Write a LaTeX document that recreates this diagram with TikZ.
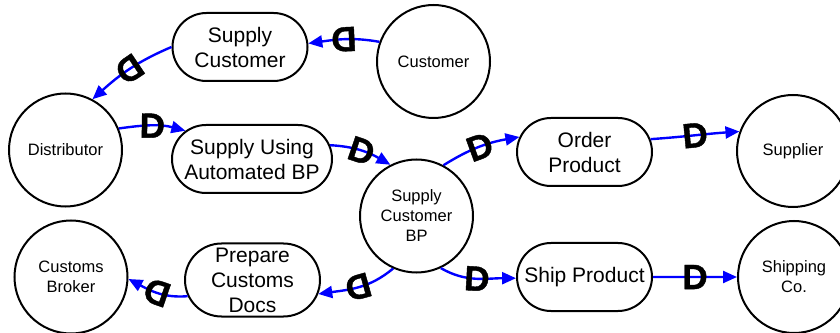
\documentclass[tikz,border=0pt]{standalone}
\usepackage{fontspec}
\setmainfont{Liberation Sans}
\newfontfamily\depfont[BoldFeatures={FakeBold=1.2}]{Liberation Sans}
\usetikzlibrary{arrows.meta,shapes.misc}
\definecolor{depblue}{RGB}{0,0,255}
\begin{document}
\begin{tikzpicture}[x=1pt,y=1pt,
  actor/.style={circle, draw, line width=2pt, minimum size=113pt, inner sep=0pt,
    align=center, font=\fontsize{16.5}{20}\selectfont},
  goal/.style={rounded rectangle, draw, line width=2pt, minimum width=135pt,
    minimum height=68pt, inner sep=0pt, align=center, font=\fontsize{21}{25}\selectfont},
  dep/.style={draw=depblue, line width=2.4pt, -{Triangle[length=14pt,width=12pt]}},
  dmark/.style={sloped, allow upside down, inner sep=0pt, pos=0.5,
    font=\depfont\fontsize{35}{35}\selectfont\bfseries, text=black}]
\useasboundingbox (0,0) rectangle (840,332);

% actors
\node[actor] (customer) at (433.5,270.5) {Customer};
\node[actor] (distributor) at (65.5,182) {Distributor};
\node[actor] (scbp) at (416.5,116) {Supply\\Customer\\BP};
\node[actor, minimum size=112pt] (supplier) at (793,181) {Supplier};
\node[actor, minimum size=112pt] (shipco) at (794,55) {Shipping\\Co.};
\node[actor] (broker) at (71,55) {Customs\\Broker};

% goals
\node[goal] (supcust) at (240,285) {Supply\\Customer};
\node[goal, minimum width=160pt] (supauto) at (252,173) {Supply Using\\Automated BP};
\node[goal] (order) at (584.5,180) {Order\\Product};
\node[goal] (ship) at (584.5,55) {Ship Product};
\node[goal, minimum height=73pt] (docs) at (252.5,52) {Prepare\\Customs\\Docs};

% dependencies
\draw[dep] (customer.160) to[out=170,in=8] node[dmark]{D} (supcust.3);
\draw[dep] (supcust.west) to[out=203,in=42] node[dmark]{D} (distributor.62);
\draw[dep] (distributor.22) to[out=8,in=165] node[dmark]{D} (supauto.157);
\draw[dep] (supauto.10) to[out=-3,in=150] node[dmark]{D} (scbp.117);
\draw[dep] (scbp.62) to[out=32,in=190] node[dmark]{D} (order.167);
\draw[dep] (order.11) to[out=4,in=184] node[dmark]{D} (supplier.160);
\draw[dep] (scbp.295) to[out=-30,in=180] node[dmark]{D} (ship.181);
\draw[dep] (ship.0) -- node[dmark]{D} (shipco.180);
\draw[dep] (scbp.246) to[out=220,in=8] node[dmark]{D} (docs.-12);
\draw[dep] (docs.194) to[out=185,in=-28] node[dmark]{D} (broker.-2);
\end{tikzpicture}
\end{document}
